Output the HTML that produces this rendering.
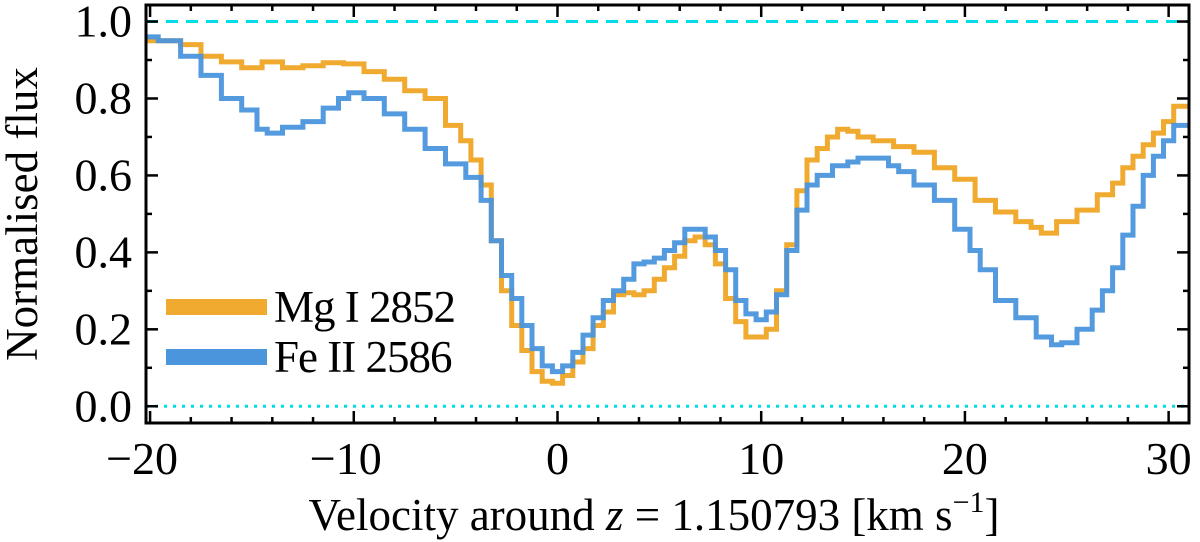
<!DOCTYPE html>
<html><head><meta charset="utf-8"><style>
body{margin:0;background:#fff}
svg{display:block;font-family:"Liberation Serif",serif}
</style></head><body>
<svg id="chart" width="1200" height="542" viewBox="0 0 1200 542" xmlns="http://www.w3.org/2000/svg">
<g id="marks"></g>
<g id="axes"></g>
</svg>
<script>
const mgVel=[-20.2,-19,-18,-17,-16,-15,-14,-13,-12,-11,-10,-9,-8,-7,-6,-5,-4.5,-4,-3.5,-3,-2.5,-2,-1.5,-1,-0.5,0,0.5,1,1.5,2,2.5,3,3.5,4,4.5,5,5.5,6,6.5,7,7.5,8,8.5,9,9.5,10,10.5,11,11.5,12,12.5,13,13.5,14,14.5,15,16,17,18,19,20,21,22,23,23.5,24,25,26,27,27.5,28,28.5,29,29.5,30,30.5];
const mgFlux=[0.95,0.95,0.94,0.91,0.895,0.88,0.895,0.88,0.885,0.893,0.89,0.87,0.85,0.82,0.80,0.73,0.69,0.64,0.575,0.43,0.30,0.21,0.145,0.09,0.065,0.06,0.08,0.115,0.15,0.21,0.245,0.29,0.295,0.29,0.30,0.33,0.36,0.39,0.43,0.44,0.42,0.37,0.28,0.22,0.18,0.18,0.20,0.30,0.42,0.56,0.64,0.67,0.70,0.72,0.715,0.70,0.69,0.675,0.66,0.62,0.59,0.535,0.505,0.48,0.465,0.45,0.48,0.51,0.55,0.58,0.62,0.65,0.68,0.71,0.74,0.78];
const feVel=[-20.2,-19,-18,-17,-16,-15,-14.5,-14,-13,-12,-11,-10.5,-10,-9,-8,-7,-6,-5,-4,-3.5,-3,-2.5,-2,-1.5,-1,-0.5,0,0.5,1,1.5,2,2.5,3,3.5,4,4.5,5,5.5,6,6.5,7,7.5,8,8.5,9,9.5,10,10.5,11,11.5,12,12.5,13,14,14.5,15,16,16.5,17,18,19,20,20.5,21,22,23,24,24.5,25,26,26.5,27,27.5,28,28.5,29,29.5,30,30.5];
const feFlux=[0.96,0.95,0.91,0.86,0.80,0.77,0.72,0.71,0.725,0.74,0.775,0.80,0.815,0.80,0.76,0.72,0.67,0.63,0.595,0.535,0.43,0.34,0.28,0.21,0.15,0.105,0.09,0.105,0.14,0.185,0.23,0.275,0.30,0.33,0.37,0.375,0.385,0.405,0.425,0.46,0.46,0.44,0.405,0.355,0.275,0.24,0.225,0.245,0.29,0.405,0.51,0.575,0.60,0.625,0.635,0.645,0.645,0.625,0.61,0.575,0.535,0.46,0.405,0.355,0.275,0.23,0.18,0.16,0.165,0.20,0.25,0.30,0.36,0.445,0.52,0.60,0.65,0.69,0.73];
const xTicks=[-20,-10,0,10,20,30];
const xTickLabels=["\u221220","\u221210","0","10","20","30"];
const yTicks=[0,0.2,0.4,0.6,0.8,1.0];
const yTickLabels=["0.0","0.2","0.4","0.6","0.8","1.0"];

const L=146,R=1189,T=5,B=423;
const xmin=-20.2,xmax=31.0,ymin=-0.0435,ymax=1.043;
const X=v=>L+(v-xmin)/(xmax-xmin)*(R-L);
const Y=f=>B-(f-ymin)/(ymax-ymin)*(B-T);
const NS="http://www.w3.org/2000/svg";
function mk(tag,attrs,parent){const e=document.createElementNS(NS,tag);for(const k in attrs)e.setAttribute(k,attrs[k]);parent.appendChild(e);return e;}
const marks=document.getElementById('marks'),axes=document.getElementById('axes');

const clip=mk('clipPath',{id:'pc'},marks);mk('rect',{x:L,y:T,width:R-L,height:B-T},clip);
const ref1=mk('line',{x1:L,x2:R,y1:Y(1),y2:Y(1),stroke:'#00dde6','stroke-width':3,'stroke-dasharray':'12,8'},marks);


const ref0=mk('line',{x1:L,x2:R,y1:Y(0),y2:Y(0),stroke:'#00dde6','stroke-width':3,'stroke-dasharray':'3,6'},marks);



function stepPath(vs,fs){let d='';const n=vs.length;
 for(let i=0;i<n;i++){
  const a=i===0?xmin-1:(vs[i-1]+vs[i])/2;
  const b=i===n-1?xmax+1:(vs[i]+vs[i+1])/2;
  const y=Y(fs[i]);
  d+=(i?'L':'M')+X(a).toFixed(1)+','+y.toFixed(1)+'L'+X(b).toFixed(1)+','+y.toFixed(1);}
 return d;}
const mg=mk('path',{d:stepPath(mgVel,mgFlux),fill:'none',stroke:'#f0aa30','stroke-width':5,'clip-path':'url(#pc)'},marks);


const fe=mk('path',{d:stepPath(feVel,feFlux),fill:'none',stroke:'#4a95dc','stroke-width':5,'stroke-opacity':0.95,'clip-path':'url(#pc)'},marks);



const fr=mk('rect',{x:L,y:T,width:R-L,height:B-T,fill:'none',stroke:'#000','stroke-width':3},axes);


for(let v=-20;v<=31;v+=2){const x=X(v);const major=v%10===0;const len=major?12:6;
 mk('line',{x1:x,x2:x,y1:B,y2:B-len,stroke:'#000','stroke-width':2.5},axes);
 mk('line',{x1:x,x2:x,y1:T,y2:T+len,stroke:'#000','stroke-width':2.5},axes);}
for(let k=0;k<=10;k++){const f=k/10;const y=Y(f);const len=k%2===0?12:6;
 mk('line',{x1:L,x2:L+len,y1:y,y2:y,stroke:'#000','stroke-width':2.5},axes);
 mk('line',{x1:R,x2:R-len,y1:y,y2:y,stroke:'#000','stroke-width':2.5},axes);}
xTicks.forEach((v,i)=>{const t=mk('text',{x:X(v)+(v<0?-8:0),y:474,'font-size':46,'text-anchor':'middle'},axes);t.textContent=xTickLabels[i];
 
 });
yTicks.forEach((f,i)=>{const t=mk('text',{x:132,y:Y(f)+15,'font-size':46,'text-anchor':'end'},axes);t.textContent=yTickLabels[i];
 
 });
</script>
<svg style="position:absolute;left:0;top:0" width="1200" height="542" xmlns="http://www.w3.org/2000/svg" font-family="'Liberation Serif',serif">
<text transform="translate(37,214) rotate(-90)" font-size="45" text-anchor="middle">Normalised flux</text>
<text x="654" y="530" font-size="45" text-anchor="middle">Velocity around <tspan font-style="italic">z</tspan> = 1.150793 [km s<tspan font-size="30" dy="-18">−1</tspan><tspan dy="18">]</tspan></text>
<g>
<line x1="166" x2="267" y1="307" y2="307" stroke="#f0aa30" stroke-width="16"/>
<text x="274" y="322" font-size="45" letter-spacing="-1">Mg I 2852</text>
<line x1="166" x2="267" y1="357" y2="357" stroke="#4a95dc" stroke-width="16"/>
<text x="274" y="372" font-size="45" letter-spacing="-1">Fe II 2586</text>
</g>
</svg>
</body></html>
